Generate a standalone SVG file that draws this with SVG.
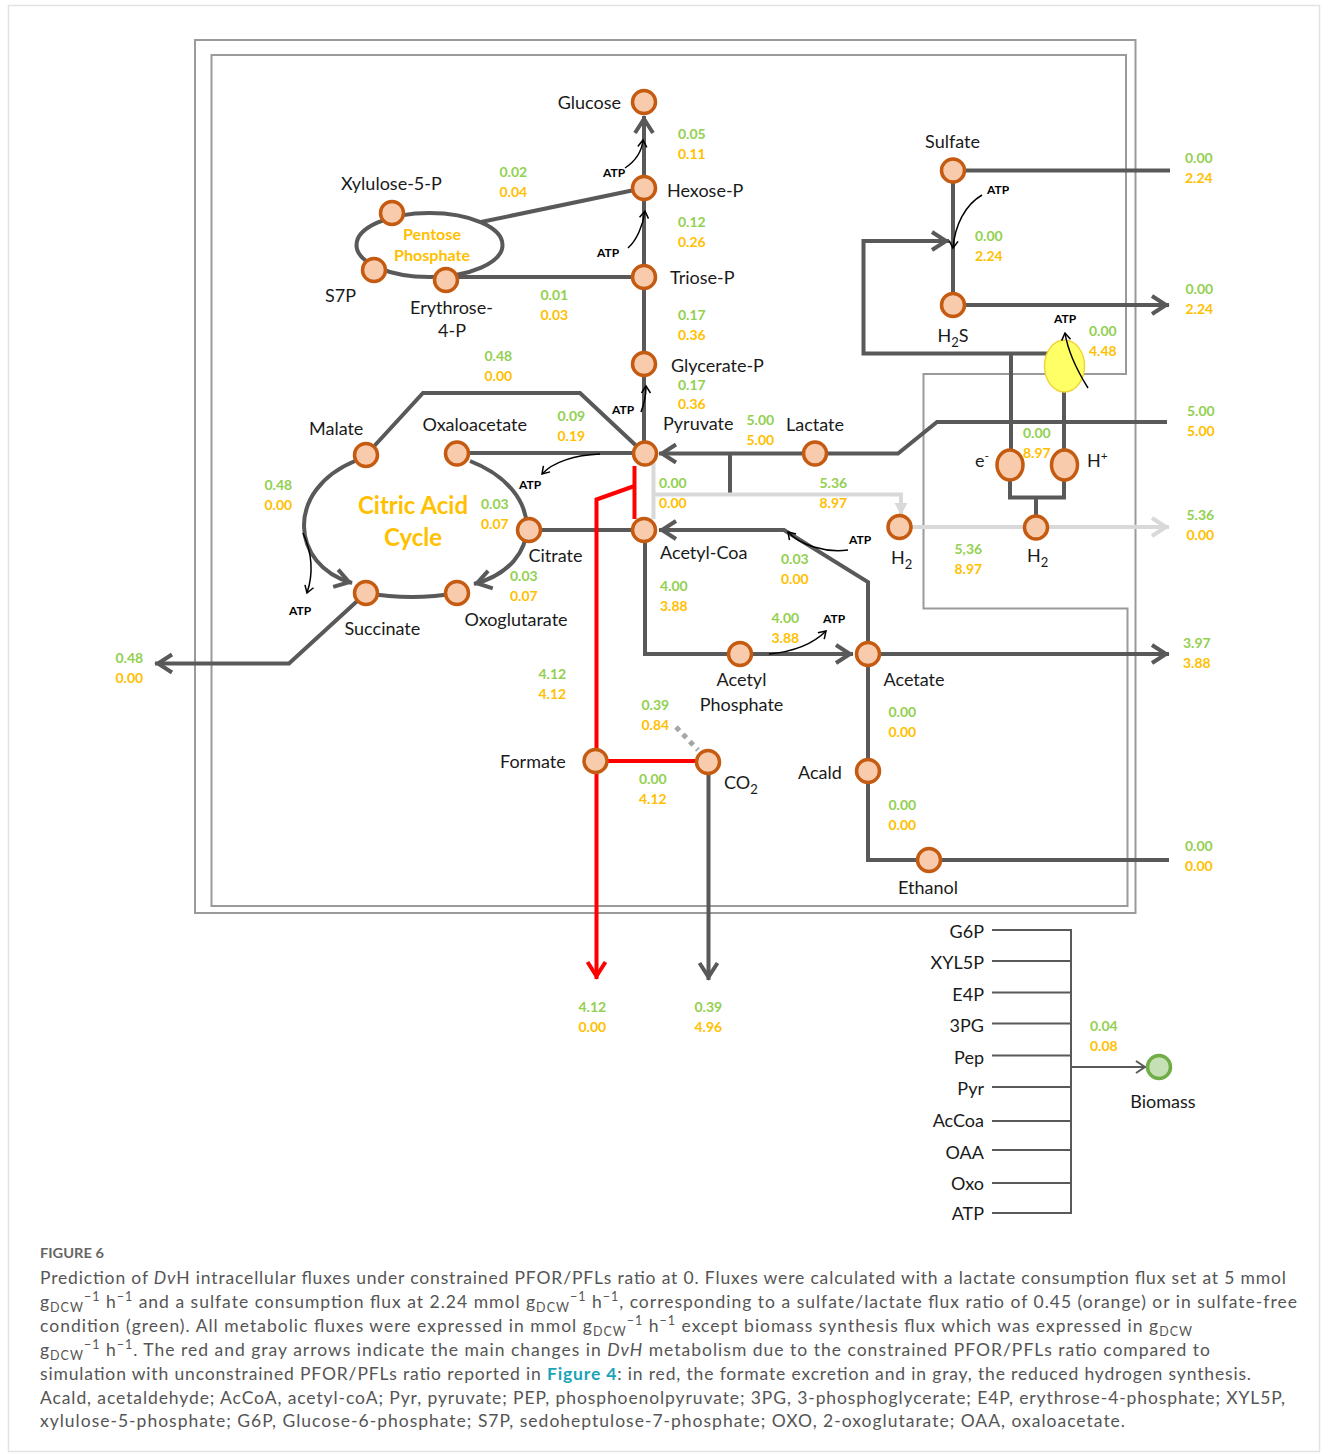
<svg xmlns="http://www.w3.org/2000/svg" width="1328" height="1454" viewBox="0 0 1328 1454">
<style>
.n{fill:#f8cbad;stroke:#c55a11;stroke-width:3.5}
.l{fill:none;stroke:#595959;stroke-width:4}
.r{fill:none;stroke:#ff0000;stroke-width:4}
.lg{fill:none;stroke:#d9d9d9;stroke-width:4}
.k{fill:none;stroke:#000;stroke-width:1.5}
.b{fill:none;stroke:#595959;stroke-width:2}
.box{fill:none;stroke:#9a9a9a;stroke-width:2}
.t{font-family:Lato,"Open Sans","Liberation Sans",sans-serif;font-size:18px;fill:#1a1a1a}
.fg{font-family:Lato,"Open Sans","Liberation Sans",sans-serif;font-size:14px;font-weight:700;fill:#92d050}
.fo{font-family:Lato,"Open Sans","Liberation Sans",sans-serif;font-size:14px;font-weight:700;fill:#ffc000}
.atp{font-family:Lato,"Open Sans","Liberation Sans",sans-serif;font-size:12px;font-weight:700;fill:#000;text-anchor:middle}
.big{font-family:Lato,"Open Sans","Liberation Sans",sans-serif;font-weight:700;fill:#ffc000;text-anchor:middle}
.cap{font-family:Lato,"Open Sans","Liberation Sans",sans-serif;font-size:17.5px;fill:#555}
</style>
<defs>
<marker id="ah" markerUnits="userSpaceOnUse" markerWidth="24" markerHeight="24" viewBox="-20 -12 24 24" refX="0" refY="0" orient="auto">
<path d="M-17,-9 L-3,0 L-17,9" fill="none" stroke="#595959" stroke-width="4"/>
</marker>
<marker id="ahr" markerUnits="userSpaceOnUse" markerWidth="24" markerHeight="24" viewBox="-20 -12 24 24" refX="0" refY="0" orient="auto">
<path d="M-17,-9 L-3,0 L-17,9" fill="none" stroke="#ff0000" stroke-width="4"/>
</marker>
<marker id="ahg" markerUnits="userSpaceOnUse" markerWidth="24" markerHeight="24" viewBox="-20 -12 24 24" refX="0" refY="0" orient="auto">
<path d="M-17,-9 L-3,0 L-17,9" fill="none" stroke="#d9d9d9" stroke-width="4"/>
</marker>
<marker id="ahgt" markerUnits="userSpaceOnUse" markerWidth="16" markerHeight="16" viewBox="-14 -8 16 16" refX="0" refY="0" orient="auto">
<path d="M-12,-6.5 L0,0 L-12,6.5 Z" fill="#d9d9d9"/>
</marker>
<marker id="ahk" markerUnits="userSpaceOnUse" markerWidth="12" markerHeight="12" viewBox="-10 -6 12 12" refX="0" refY="0" orient="auto">
<path d="M-7,-4.5 L0,0 L-7,4.5" fill="none" stroke="#000" stroke-width="1.5"/>
</marker>
<marker id="ahb" markerUnits="userSpaceOnUse" markerWidth="16" markerHeight="16" viewBox="-14 -8 16 16" refX="0" refY="0" orient="auto">
<path d="M-10,-6 L-1,0 L-10,6" fill="none" stroke="#595959" stroke-width="2"/>
</marker>
</defs>

<rect x="8.5" y="5.5" width="1311" height="1446" fill="#fff" stroke="#e2e2e2" stroke-width="1.5"/>

<g id="frames">
<rect class="box" x="195" y="40" width="940.5" height="873"/>
<path class="box" d="M211.5,55 H1126 V374 H923.5 V608.5 H1127.5 V906 H211.5 Z"/>
</g>

<g id="connectors">
<path class="l" d="M644,188 V116" marker-end="url(#ah)"/>
<path class="l" d="M644,188 V453"/>
<path class="l" d="M644,188 L481,222"/>
<path class="l" d="M446,277 H644"/>
<ellipse class="l" cx="429.5" cy="245" rx="73" ry="32"/>
<path class="l" d="M366,455 L423,393 H580 L645,454"/>
<path class="l" d="M457,453 H645"/>
<path class="l" d="M355,461 C285,490 290,565 352,583" marker-end="url(#ah)"/>
<path class="l" d="M470,461 C545,490 545,565 474,584" marker-end="url(#ah)"/>
<path class="l" d="M366,593 Q412,601 457,593"/>
<path class="l" d="M529,530 H644"/>
<path class="l" d="M366,593 L289,663.5 H155" marker-end="url(#ah)"/>
<path class="l" d="M1167,422 H937 L898,453.5 H659" marker-end="url(#ah)"/>
<path class="l" d="M730,453 V494"/>
<path class="l" d="M868,654 V582 L784,530 H659" marker-end="url(#ah)"/>
<path class="l" d="M645,530 V654 H853" marker-end="url(#ah)"/>
<path class="l" d="M868,654 H1169" marker-end="url(#ah)"/>
<path class="l" d="M868,654 V860 H1169"/>
<path class="l" d="M953,170.5 H1170"/>
<path class="l" d="M953,170.5 V305"/>
<path class="l" d="M953,305 H1169" marker-end="url(#ah)"/>
<path class="l" d="M1050,353.5 H863.5 V241 H949" marker-end="url(#ah)"/>
<path class="l" d="M1011,353.5 V452"/>
<path class="l" d="M1064,390 V452"/>
<path class="l" d="M1010,478 V497.5 H1064 V478"/>
<path class="l" d="M1036,497.5 V515"/>
<path class="lg" d="M653.5,462 V519"/>
<path class="lg" d="M653.5,494.5 H901 V515" marker-end="url(#ahgt)"/>
<path class="lg" d="M912,527 H1169" marker-end="url(#ahg)"/>
<path class="r" d="M634.5,466 V519"/>
<path class="r" d="M634.5,486 L596.5,499.5 V979" marker-end="url(#ahr)"/>
<path class="r" d="M596,761 H708"/>
<path class="l" d="M708.5,762 V980" marker-end="url(#ah)"/>
<path d="M676,727 L698,750" fill="none" stroke="#a6a6a6" stroke-width="5" stroke-dasharray="5 5"/>
<path class="k" d="M625,168 C637,160 642,150 643,140" marker-end="url(#ahk)"/>
<path class="k" d="M628,248 C637,240 643,225 645,211" marker-end="url(#ahk)"/>
<path class="k" d="M641,412 C645,402 646,395 646,386" marker-end="url(#ahk)"/>
<path class="k" d="M600,454 C575,455 553,462 542,474" marker-end="url(#ahk)"/>
<path class="k" d="M303,533 C313,555 313,575 307,593" marker-end="url(#ahk)"/>
<path class="k" d="M848,550 C825,553 800,545 788,532" marker-end="url(#ahk)"/>
<path class="k" d="M769,654 C790,652 812,645 826,631" marker-end="url(#ahk)"/>
<path class="k" d="M982,195 C965,205 955,225 953,248" marker-end="url(#ahk)"/>
<path class="b" d="M992,930 H1071 M992,961 H1071 M992,992.5 H1071 M992,1023.5 H1071 M992,1055.5 H1071 M992,1087 H1071 M992,1121 H1071 M992,1150 H1071 M992,1183 H1071 M992,1213 H1071 M1071,929 V1214"/>
<path class="b" d="M1071,1067 H1146" marker-end="url(#ahb)"/>
</g>

<g id="node-hydrogenase">
<ellipse cx="1064.5" cy="366" rx="20" ry="26" fill="#ffff66" stroke="#f2d43a" stroke-width="1.5"/>
<path class="k" d="M1088,388 C1078,372 1068,352 1065,333" marker-end="url(#ahk)"/>
</g>

<g id="node-glucose"><circle class="n" cx="644" cy="102" r="11.5"/><text class="t" x="621" y="109" text-anchor="end">Glucose</text></g>
<g id="node-hexose"><circle class="n" cx="644" cy="188" r="11.5"/><text class="t" x="667" y="197">Hexose-P</text></g>
<g id="node-triose"><circle class="n" cx="644" cy="277" r="11.5"/><text class="t" x="670" y="284">Triose-P</text></g>
<g id="node-glycerate"><circle class="n" cx="644" cy="364" r="11.5"/><text class="t" x="671" y="371.5">Glycerate-P</text></g>
<g id="node-pyruvate"><circle class="n" cx="645" cy="453.5" r="11.5"/><text class="t" x="663" y="429.5">Pyruvate</text></g>
<g id="node-acetylcoa"><circle class="n" cx="644" cy="530" r="11.5"/><text class="t" x="660" y="559">Acetyl-Coa</text></g>
<g id="node-xylulose"><circle class="n" cx="392" cy="213" r="11.5"/><text class="t" x="341" y="190">Xylulose-5-P</text></g>
<g id="node-s7p"><circle class="n" cx="374" cy="270" r="11.5"/><text class="t" x="325" y="301.5">S7P</text></g>
<g id="node-erythrose"><circle class="n" cx="446" cy="280" r="11.5"/><text class="t" x="410" y="314">Erythrose-</text><text class="t" x="452" y="336.5" text-anchor="middle">4-P</text></g>
<g id="node-malate"><circle class="n" cx="366" cy="455" r="11.5"/><text class="t" x="309" y="435">Malate</text></g>
<g id="node-oxaloacetate"><circle class="n" cx="457" cy="453.5" r="11.5"/><text class="t" x="422.5" y="431">Oxaloacetate</text></g>
<g id="node-citrate"><circle class="n" cx="529" cy="530" r="11.5"/><text class="t" x="528.5" y="561.5">Citrate</text></g>
<g id="node-succinate"><circle class="n" cx="366" cy="593" r="11.5"/><text class="t" x="344.5" y="634.5">Succinate</text></g>
<g id="node-oxoglutarate"><circle class="n" cx="457" cy="593" r="11.5"/><text class="t" x="464.5" y="625.5">Oxoglutarate</text></g>
<g id="node-lactate"><circle class="n" cx="815" cy="453.5" r="11.5"/><text class="t" x="786" y="430.5">Lactate</text></g>
<g id="node-sulfate"><circle class="n" cx="953" cy="170.5" r="11.5"/><text class="t" x="952.5" y="147.5" text-anchor="middle">Sulfate</text></g>
<g id="node-h2s"><circle class="n" cx="953" cy="305" r="11.5"/><text class="t" x="937.5" y="342">H<tspan dy="5" font-size="13">2</tspan><tspan dy="-5">S</tspan></text></g>
<g id="node-eminus"><ellipse class="n" cx="1010" cy="465" rx="13" ry="15"/><text class="t" x="975" y="467">e<tspan dy="-7" font-size="12">-</tspan></text></g>
<g id="node-hplus"><ellipse class="n" cx="1064.5" cy="465" rx="13" ry="15"/><text class="t" x="1087" y="467">H<tspan dy="-7" font-size="12">+</tspan></text></g>
<g id="node-h2a"><circle class="n" cx="899.5" cy="527" r="11.5"/><text class="t" x="891" y="564">H<tspan dy="5" font-size="13">2</tspan></text></g>
<g id="node-h2b"><circle class="n" cx="1036" cy="527.5" r="11.5"/><text class="t" x="1027" y="562">H<tspan dy="5" font-size="13">2</tspan></text></g>
<g id="node-acetylp"><circle class="n" cx="740" cy="654" r="11.5"/><text class="t" x="741.5" y="685.5" text-anchor="middle">Acetyl</text><text class="t" x="741.5" y="710.5" text-anchor="middle">Phosphate</text></g>
<g id="node-acetate"><circle class="n" cx="868" cy="654" r="11.5"/><text class="t" x="883.5" y="685.5">Acetate</text></g>
<g id="node-acald"><circle class="n" cx="868" cy="771" r="11.5"/><text class="t" x="798" y="778.5">Acald</text></g>
<g id="node-ethanol"><circle class="n" cx="929" cy="860" r="11.5"/><text class="t" x="898" y="893.5">Ethanol</text></g>
<g id="node-formate"><circle class="n" cx="595.5" cy="761" r="11.5"/><text class="t" x="500" y="767.5">Formate</text></g>
<g id="node-co2"><circle class="n" cx="708" cy="762" r="11.5"/><text class="t" x="724" y="789">CO<tspan dy="5" font-size="13">2</tspan></text></g>
<g id="node-biomass"><circle cx="1159" cy="1067" r="11.5" fill="#c5e0b4" stroke="#70ad47" stroke-width="3.5"/><text class="t" x="1163" y="1107.5" text-anchor="middle">Biomass</text></g>
<g id="node-biomass-precursors">
<text class="t" x="984" y="937.5" text-anchor="end">G6P</text>
<text class="t" x="984" y="969" text-anchor="end">XYL5P</text>
<text class="t" x="984" y="1000.5" text-anchor="end">E4P</text>
<text class="t" x="984" y="1032" text-anchor="end">3PG</text>
<text class="t" x="984" y="1063.5" text-anchor="end">Pep</text>
<text class="t" x="984" y="1095" text-anchor="end">Pyr</text>
<text class="t" x="984" y="1127" text-anchor="end">AcCoa</text>
<text class="t" x="984" y="1158.5" text-anchor="end">OAA</text>
<text class="t" x="984" y="1190" text-anchor="end">Oxo</text>
<text class="t" x="984" y="1220" text-anchor="end">ATP</text>
</g>

<g id="pathway-labels">
<text class="big" x="432" y="239.5" font-size="15" textLength="58" lengthAdjust="spacingAndGlyphs">Pentose</text>
<text class="big" x="432" y="261" font-size="15" textLength="76" lengthAdjust="spacingAndGlyphs">Phosphate</text>
<text class="big" x="413" y="514" font-size="24" textLength="110" lengthAdjust="spacingAndGlyphs">Citric Acid</text>
<text class="big" x="413" y="546" font-size="24">Cycle</text>
</g>

<g id="atp-labels">
<text class="atp" x="614" y="177">ATP</text>
<text class="atp" x="608" y="257">ATP</text>
<text class="atp" x="623" y="413.5">ATP</text>
<text class="atp" x="530" y="489">ATP</text>
<text class="atp" x="300" y="615">ATP</text>
<text class="atp" x="860" y="544">ATP</text>
<text class="atp" x="834" y="622.5">ATP</text>
<text class="atp" x="998" y="193.5">ATP</text>
<text class="atp" x="1065" y="323">ATP</text>
</g>

<g id="fluxes">
<text class="fg" x="678" y="139">0.05</text><text class="fo" x="678" y="159">0.11</text>
<text class="fg" x="499.5" y="177">0.02</text><text class="fo" x="499.5" y="197">0.04</text>
<text class="fg" x="678" y="227">0.12</text><text class="fo" x="678" y="247">0.26</text>
<text class="fg" x="540.5" y="299.5">0.01</text><text class="fo" x="540.5" y="319.5">0.03</text>
<text class="fg" x="678" y="319.5">0.17</text><text class="fo" x="678" y="339.5">0.36</text>
<text class="fg" x="484.5" y="360.5">0.48</text><text class="fo" x="484.5" y="380.5">0.00</text>
<text class="fg" x="678" y="389.5">0.17</text><text class="fo" x="678" y="409">0.36</text>
<text class="fg" x="557.5" y="421">0.09</text><text class="fo" x="557.5" y="441">0.19</text>
<text class="fg" x="746.5" y="425">5.00</text><text class="fo" x="746.5" y="445">5.00</text>
<text class="fg" x="264.5" y="490">0.48</text><text class="fo" x="264.5" y="510">0.00</text>
<text class="fg" x="481" y="509">0.03</text><text class="fo" x="481" y="529">0.07</text>
<text class="fg" x="659" y="487.5">0.00</text><text class="fo" x="659" y="507.5">0.00</text>
<text class="fg" x="819.5" y="488">5.36</text><text class="fo" x="819.5" y="508">8.97</text>
<text class="fg" x="510" y="581">0.03</text><text class="fo" x="510" y="601">0.07</text>
<text class="fg" x="781" y="564">0.03</text><text class="fo" x="781" y="584">0.00</text>
<text class="fg" x="660" y="591">4.00</text><text class="fo" x="660" y="611">3.88</text>
<text class="fg" x="771.5" y="622.5">4.00</text><text class="fo" x="771.5" y="642.5">3.88</text>
<text class="fg" x="115.5" y="663">0.48</text><text class="fo" x="115.5" y="683">0.00</text>
<text class="fg" x="538.5" y="679">4.12</text><text class="fo" x="538.5" y="699">4.12</text>
<text class="fg" x="641.5" y="709.5">0.39</text><text class="fo" x="641.5" y="729.5">0.84</text>
<text class="fg" x="639" y="783.5">0.00</text><text class="fo" x="639" y="803.5">4.12</text>
<text class="fg" x="888.5" y="717">0.00</text><text class="fo" x="888.5" y="737">0.00</text>
<text class="fg" x="888.5" y="810">0.00</text><text class="fo" x="888.5" y="830">0.00</text>
<text class="fg" x="1185" y="162.5">0.00</text><text class="fo" x="1185" y="182.5">2.24</text>
<text class="fg" x="975" y="240.5">0.00</text><text class="fo" x="975" y="260.5">2.24</text>
<text class="fg" x="1185.5" y="293.5">0.00</text><text class="fo" x="1185.5" y="313.5">2.24</text>
<text class="fg" x="1089" y="336">0.00</text><text class="fo" x="1089" y="356">4.48</text>
<text class="fg" x="1187" y="415.5">5.00</text><text class="fo" x="1187" y="435.5">5.00</text>
<text class="fg" x="1023" y="437.5">0.00</text><text class="fo" x="1023" y="457.5">8.97</text>
<text class="fg" x="1186.5" y="519.5">5.36</text><text class="fo" x="1186.5" y="539.5">0.00</text>
<text class="fg" x="954.5" y="554">5,36</text><text class="fo" x="954.5" y="574">8.97</text>
<text class="fg" x="1183" y="648">3.97</text><text class="fo" x="1183" y="668">3.88</text>
<text class="fg" x="1185" y="850.5">0.00</text><text class="fo" x="1185" y="870.5">0.00</text>
<text class="fg" x="578.5" y="1012">4.12</text><text class="fo" x="578.5" y="1032">0.00</text>
<text class="fg" x="694.5" y="1012">0.39</text><text class="fo" x="694.5" y="1032">4.96</text>
<text class="fg" x="1090" y="1031">0.04</text><text class="fo" x="1090" y="1050.5">0.08</text>
</g>

<g id="caption">
<text x="40" y="1258" font-family="Lato,'Open Sans',sans-serif" font-size="14" font-weight="700" fill="#666" textLength="64" lengthAdjust="spacingAndGlyphs">FIGURE 6</text>
<text class="cap" x="40" y="1284" textLength="1246" lengthAdjust="spacing">Prediction of <tspan font-style="italic">Dv</tspan>H intracellular fluxes under constrained PFOR/PFLs ratio at 0. Fluxes were calculated with a lactate consumption flux set at 5 mmol</text>
<text class="cap" x="40" y="1308" textLength="1257" lengthAdjust="spacing">g<tspan dy="4" font-size="12.5">DCW</tspan><tspan dy="-11" font-size="12.5">−1</tspan><tspan dy="7"> h</tspan><tspan dy="-7" font-size="12.5">−1</tspan><tspan dy="7"> and a sulfate consumption flux at 2.24 mmol g</tspan><tspan dy="4" font-size="12.5">DCW</tspan><tspan dy="-11" font-size="12.5">−1</tspan><tspan dy="7"> h</tspan><tspan dy="-7" font-size="12.5">−1</tspan><tspan dy="7">, corresponding to a sulfate/lactate flux ratio of 0.45 (orange) or in sulfate-free</tspan></text>
<text class="cap" x="40" y="1332" textLength="1152" lengthAdjust="spacing">condition (green). All metabolic fluxes were expressed in mmol g<tspan dy="4" font-size="12.5">DCW</tspan><tspan dy="-11" font-size="12.5">−1</tspan><tspan dy="7"> h</tspan><tspan dy="-7" font-size="12.5">−1</tspan><tspan dy="7"> except biomass synthesis flux which was expressed in g</tspan><tspan dy="4" font-size="12.5">DCW</tspan></text>
<text class="cap" x="40" y="1356" textLength="1170" lengthAdjust="spacing">g<tspan dy="4" font-size="12.5">DCW</tspan><tspan dy="-11" font-size="12.5">−1</tspan><tspan dy="7"> h</tspan><tspan dy="-7" font-size="12.5">−1</tspan><tspan dy="7">. The red and gray arrows indicate the main changes in </tspan><tspan font-style="italic">DvH</tspan> metabolism due to the constrained PFOR/PFLs ratio compared to</text>
<text class="cap" x="40" y="1380" textLength="1211" lengthAdjust="spacing">simulation with unconstrained PFOR/PFLs ratio reported in <tspan font-weight="700" fill="#1aa3b8">Figure 4</tspan>: in red, the formate excretion and in gray, the reduced hydrogen synthesis.</text>
<text class="cap" x="40" y="1404" textLength="1245" lengthAdjust="spacing">Acald, acetaldehyde; AcCoA, acetyl-coA; Pyr, pyruvate; PEP, phosphoenolpyruvate; 3PG, 3-phosphoglycerate; E4P, erythrose-4-phosphate; XYL5P,</text>
<text class="cap" x="40" y="1427" textLength="1085" lengthAdjust="spacing">xylulose-5-phosphate; G6P, Glucose-6-phosphate; S7P, sedoheptulose-7-phosphate; OXO, 2-oxoglutarate; OAA, oxaloacetate.</text>
</g>
</svg>
